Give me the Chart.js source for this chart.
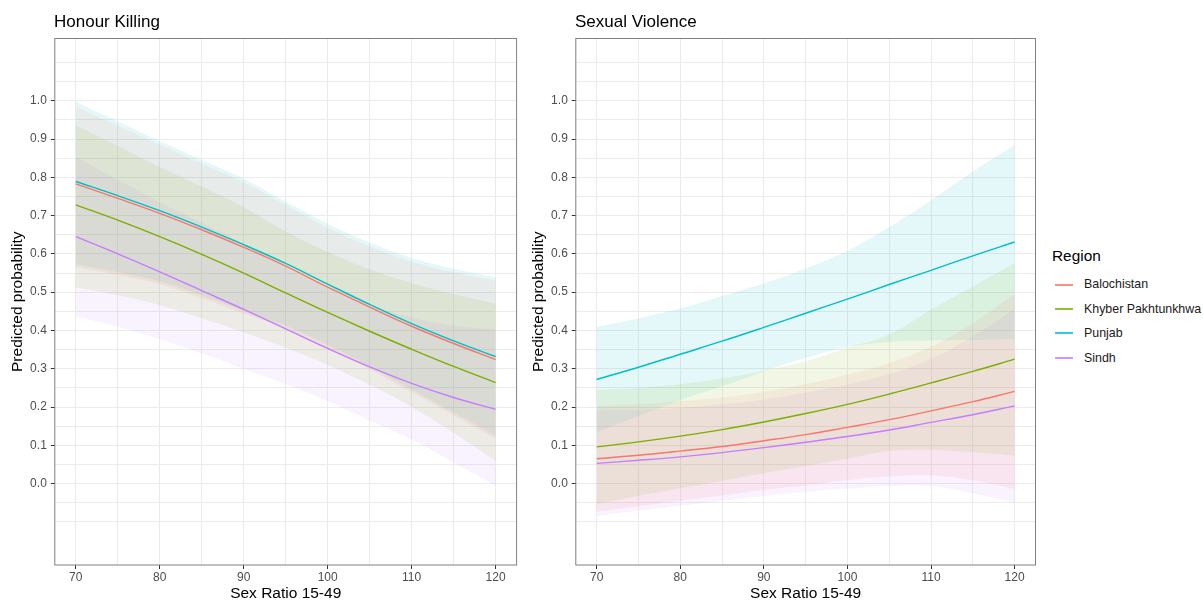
<!DOCTYPE html>
<html>
<head>
<meta charset="utf-8">
<script src="https://cdn.jsdelivr.net/npm/chart.js@4.4.1/dist/chart.umd.min.js"></script>
<style>
  html, body { margin: 0; padding: 0; background: #fff; }
  body { width: 1203px; height: 601px; overflow: hidden; position: relative; font-family: "Liberation Sans", Arial, sans-serif; }
  canvas { position: absolute; top: 0; }
  .ptitle { position: absolute; font-size: 17px; line-height: 1; color: #000; white-space: nowrap; }
  #legend { position: absolute; left: 1052px; top: 248px; }
  #legend .lt { font-size: 15.4px; line-height: 1; color: #000; margin-bottom: 9px; }
  #legend .row { position: relative; height: 24.4px; display: flex; align-items: center; }
  #legend .key { position: absolute; left: 3px; width: 18px; height: 2px; opacity: 0.8; }
  #legend .lab { position: absolute; left: 32px; font-size: 12.4px; line-height: 1; color: #1a1a1a; white-space: nowrap; }
</style>
</head>
<body>
<canvas id="hk" width="520" height="601" style="left:0px"></canvas>
<canvas id="sv" width="520" height="601" style="left:521px"></canvas>
<div class="ptitle" style="left:54px;top:13px">Honour Killing</div>
<div class="ptitle" style="left:575px;top:13px">Sexual Violence</div>
<div id="legend"></div>
<script>
// ---------- data ----------
const regions = ['Balochistan', 'Khyber Pakhtunkhwa', 'Punjab', 'Sindh'];
const regionColors = ['#F8766D', '#7CAE00', '#00BFC4', '#C77CFF'];
const sexRatio = [70, 75, 80, 85, 90, 95, 100, 105, 110, 115, 120];
const xTickValues = [70, 80, 90, 100, 110, 120];
const yTickValues = [0, 0.1, 0.2, 0.3, 0.4, 0.5, 0.6, 0.7, 0.8, 0.9, 1.0];
const yTickLabels = ['0.0', '0.1', '0.2', '0.3', '0.4', '0.5', '0.6', '0.7', '0.8', '0.9', '1.0'];

// Honour Killing: predicted probability
const hkBalochistan = [0.783, 0.745, 0.706, 0.663, 0.617, 0.568, 0.513, 0.461, 0.411, 0.366, 0.324];
const hkKhyber      = [0.728, 0.688, 0.645, 0.599, 0.550, 0.498, 0.447, 0.398, 0.351, 0.306, 0.264];
const hkPunjab      = [0.789, 0.752, 0.713, 0.670, 0.624, 0.575, 0.521, 0.468, 0.418, 0.373, 0.332];
const hkSindh       = [0.645, 0.600, 0.553, 0.504, 0.455, 0.404, 0.353, 0.305, 0.262, 0.225, 0.194];
// Honour Killing: confidence bands
const hkBalochistanUpper = [0.985, 0.935, 0.885, 0.836, 0.787, 0.728, 0.668, 0.620, 0.580, 0.552, 0.530];
const hkBalochistanLower = [0.565, 0.545, 0.521, 0.485, 0.444, 0.405, 0.354, 0.299, 0.239, 0.178, 0.118];
const hkKhyberUpper      = [0.936, 0.882, 0.827, 0.776, 0.722, 0.659, 0.605, 0.560, 0.524, 0.495, 0.470];
const hkKhyberLower      = [0.512, 0.492, 0.466, 0.432, 0.395, 0.355, 0.310, 0.258, 0.200, 0.132, 0.059];
const hkPunjabUpper      = [0.997, 0.946, 0.895, 0.846, 0.796, 0.737, 0.679, 0.630, 0.590, 0.561, 0.538];
const hkPunjabLower      = [0.572, 0.552, 0.528, 0.492, 0.451, 0.412, 0.362, 0.306, 0.246, 0.185, 0.126];
const hkSindhUpper       = [0.853, 0.794, 0.735, 0.681, 0.627, 0.566, 0.511, 0.467, 0.434, 0.413, 0.403];
const hkSindhLower       = [0.437, 0.410, 0.378, 0.340, 0.300, 0.260, 0.215, 0.165, 0.115, 0.055, -0.006];

// Sexual Violence: predicted probability
const svBalochistan = [0.065, 0.074, 0.085, 0.097, 0.112, 0.128, 0.147, 0.167, 0.190, 0.214, 0.241];
const svKhyber      = [0.096, 0.109, 0.124, 0.141, 0.161, 0.183, 0.207, 0.234, 0.263, 0.293, 0.325];
const svPunjab      = [0.272, 0.304, 0.338, 0.372, 0.408, 0.445, 0.482, 0.520, 0.557, 0.595, 0.631];
const svSindh       = [0.053, 0.061, 0.070, 0.081, 0.094, 0.108, 0.123, 0.140, 0.160, 0.180, 0.203];
// Sexual Violence: confidence bands
const svBalochistanUpper = [0.203, 0.207, 0.215, 0.225, 0.240, 0.260, 0.285, 0.315, 0.358, 0.419, 0.496];
const svBalochistanLower = [-0.073, -0.059, -0.045, -0.031, -0.016, -0.004, 0.009, 0.019, 0.022, 0.009, -0.014];
const svKhyberUpper      = [0.245, 0.250, 0.260, 0.275, 0.295, 0.320, 0.355, 0.390, 0.455, 0.515, 0.577];
const svKhyberLower      = [-0.053, -0.032, -0.012, 0.007, 0.027, 0.046, 0.065, 0.085, 0.088, 0.082, 0.073];
const svPunjabUpper      = [0.410, 0.432, 0.458, 0.490, 0.523, 0.562, 0.608, 0.670, 0.740, 0.815, 0.885];
const svPunjabLower      = [0.134, 0.176, 0.218, 0.254, 0.293, 0.328, 0.356, 0.370, 0.374, 0.375, 0.377];
const svSindhUpper       = [0.191, 0.193, 0.198, 0.207, 0.220, 0.238, 0.259, 0.286, 0.326, 0.385, 0.456];
const svSindhLower       = [-0.085, -0.071, -0.058, -0.045, -0.032, -0.022, -0.013, -0.006, -0.006, -0.025, -0.050];

// ---------- chart building ----------
const FONT = '"Liberation Sans", Arial, sans-serif';
Chart.defaults.font.family = FONT;

function rgba(hex, a) {
  const n = parseInt(hex.slice(1), 16);
  return `rgba(${(n >> 16) & 255},${(n >> 8) & 255},${n & 255},${a})`;
}
const pts = arr => sexRatio.map((x, i) => ({ x: x, y: arr[i] }));

// gridline positions (major + minor), ggplot-like
const xGrid = [];
for (let v = 70; v <= 120; v += 5) xGrid.push(v);
const yGrid = [];
for (let k = -2; k <= 22; k++) yGrid.push(Math.round(k * 5) / 100);

const isMajorY = v => yTickValues.some(t => Math.abs(t - v) < 1e-6);
const isMajorX = v => xTickValues.includes(v);

const borderPlugin = {
  id: 'panelBorder',
  afterDatasetsDraw(chart) {
    const { ctx, chartArea: a } = chart;
    ctx.save();
    ctx.strokeStyle = '#808080';
    ctx.lineWidth = 1;
    ctx.strokeRect(a.left, a.top, a.right - a.left, a.bottom - a.top);
    ctx.restore();
  }
};

function makeChart(id, lines, uppers, lowers, padRight) {
  const datasets = [];
  lines.forEach((arr, i) => {
    datasets.push({
      label: regions[i], data: pts(arr), borderColor: regionColors[i], borderWidth: 1.4,
      pointRadius: 0, fill: false, tension: 0.4, order: 0
    });
  });
  uppers.forEach((arr, i) => {
    datasets.push({
      label: regions[i] + ' upper', data: pts(arr), borderColor: 'rgba(0,0,0,0)', borderWidth: 0,
      backgroundColor: rgba(regionColors[i], 0.1), fill: '+1',
      pointRadius: 0, tension: 0.4, order: 1
    });
    datasets.push({
      label: regions[i] + ' lower', data: pts(lowers[i]), borderColor: 'rgba(0,0,0,0)', borderWidth: 0,
      fill: false, pointRadius: 0, tension: 0.4, order: 1
    });
  });

  return new Chart(document.getElementById(id), {
    type: 'line',
    data: { datasets },
    plugins: [borderPlugin],
    options: {
      responsive: false, animation: false, devicePixelRatio: 1,
      layout: { padding: { top: 38.5, right: padRight, bottom: 0, left: 0 } },
      plugins: { legend: { display: false }, tooltip: { enabled: false }, title: { display: false } },
      scales: {
        x: {
          type: 'linear', min: 67.5, max: 122.5,
          afterBuildTicks: s => { s.ticks = xGrid.map(v => ({ value: v })); },
          afterFit: s => { s.height = 36; },
          border: { display: false },
          grid: {
            color: '#ebebeb', lineWidth: 1, tickLength: 4,
            tickColor: c => (c.tick && isMajorX(c.tick.value)) ? '#333333' : 'rgba(0,0,0,0)'
          },
          ticks: {
            autoSkip: false, maxRotation: 0, padding: 1, color: '#4d4d4d',
            font: { size: 12, family: FONT },
            callback: v => isMajorX(v) ? String(v) : ''
          },
          title: { display: true, text: 'Sex Ratio 15-49', color: '#000', padding: 0, font: { size: 15.5, family: FONT, lineHeight: 1 } }
        },
        y: {
          type: 'linear', min: -0.2125, max: 1.1625,
          afterBuildTicks: s => { s.ticks = yGrid.map(v => ({ value: v })); },
          afterFit: s => { s.width = 54.8; },
          border: { display: false },
          grid: {
            color: '#ebebeb', lineWidth: 1, tickLength: 4,
            tickColor: c => (c.tick && isMajorY(c.tick.value)) ? '#333333' : 'rgba(0,0,0,0)'
          },
          ticks: {
            autoSkip: false, padding: 4, color: '#4d4d4d',
            font: { size: 12, family: FONT },
            callback: v => {
              const idx = yTickValues.findIndex(t => Math.abs(t - v) < 1e-6);
              return idx >= 0 ? yTickLabels[idx] : '';
            }
          },
          title: { display: true, text: 'Predicted probability', color: '#000', padding: { top: 10, bottom: 0 }, font: { size: 15.5, family: FONT, lineHeight: 1 } }
        }
      }
    }
  });
}

makeChart('hk',
  [hkBalochistan, hkKhyber, hkPunjab, hkSindh],
  [hkBalochistanUpper, hkKhyberUpper, hkPunjabUpper, hkSindhUpper],
  [hkBalochistanLower, hkKhyberLower, hkPunjabLower, hkSindhLower], 3.4);

makeChart('sv',
  [svBalochistan, svKhyber, svPunjab, svSindh],
  [svBalochistanUpper, svKhyberUpper, svPunjabUpper, svSindhUpper],
  [svBalochistanLower, svKhyberLower, svPunjabLower, svSindhLower], 5.5);

// ---------- legend ----------
const leg = document.getElementById('legend');
const lt = document.createElement('div');
lt.className = 'lt';
lt.textContent = 'Region';
leg.appendChild(lt);
regions.forEach((r, i) => {
  const row = document.createElement('div');
  row.className = 'row';
  const key = document.createElement('div');
  key.className = 'key';
  key.style.background = regionColors[i];
  const lab = document.createElement('div');
  lab.className = 'lab';
  lab.textContent = r;
  row.appendChild(key);
  row.appendChild(lab);
  leg.appendChild(row);
});
</script>
</body>
</html>
